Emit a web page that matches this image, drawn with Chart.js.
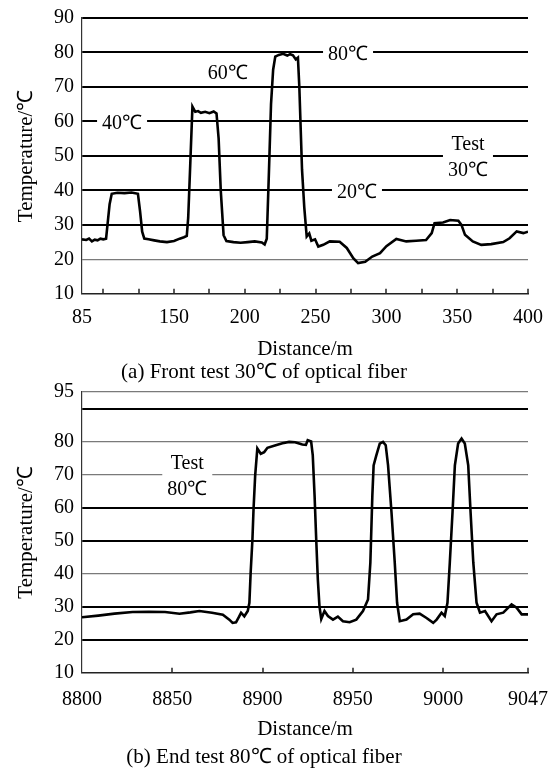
<!DOCTYPE html>
<html><head><meta charset="utf-8">
<script src="https://cdn.jsdelivr.net/npm/chart.js@4"></script>
<style>
html,body{margin:0;padding:0;background:#fff;}
#wa{position:absolute;left:0;top:0;width:554px;height:385px;}
#wb{position:absolute;left:0;top:370px;width:554px;height:400px;}
canvas{display:block;}
</style></head><body>
<div id="wa"><canvas id="ca" width="554" height="385"></canvas></div>
<div id="wb"><canvas id="cb" width="554" height="400"></canvas></div>
<script>
// ---------- DATA ----------
const distanceA = [85,88,90,92,94,96,98,100,102,103,104.5,106,110,115,120,124.5,126,127.5,129,132,136,140,145,150,154,157,159,160,161.5,163,165,167,169,172,175,178,180,181.5,183,185,187,192,197,202,207,212,214,215.5,217,218.5,220,221.5,224,227,230,232,234,236,237.5,238.5,240.4,242,243.7,245.5,247,249.6,251.9,255.4,260,267,272,276.6,280,285,290,295.5,300,307,314,321,328,332,334,340,345,350.8,353,355.5,361,367,374,382.5,387,392,396.7,400];
const temperatureA = [25.8,25.6,26.0,25.2,25.7,25.5,26.0,25.8,26.0,30,36,39.0,39.3,39.2,39.4,39.0,34,28,26.0,25.8,25.5,25.2,25.0,25.3,26.0,26.4,26.8,32,48,64.3,62.8,63.0,62.5,62.8,62.4,62.9,62.3,55,40,27,25.3,25.0,24.8,25.0,25.2,24.9,24.3,26,45,65,75,78.8,79.3,79.6,79.1,79.5,79.2,78.0,78.5,70,46,35,26.6,27.5,25.4,25.8,23.7,24.2,25.2,25.1,23.3,20.3,18.9,19.3,20.8,21.8,23.8,25.9,25.2,25.4,25.6,27.6,30.5,30.7,31.4,31.2,30,27.1,25.2,24.2,24.4,25.0,26.1,28.1,27.6,28.0];

const distanceB = [8800,8809,8818,8828,8837,8846,8854,8860,8865,8872,8878,8881.6,8883.4,8885.3,8887,8888.1,8889.9,8891.8,8892.7,8893.4,8894.4,8895,8895.9,8897.1,8899,8900.9,8902.7,8907.3,8911,8914.7,8918,8920.3,8922,8924,8925,8926.9,8927.8,8928.8,8929.7,8930.6,8931.5,8932.5,8934.3,8936.2,8939,8941.7,8944.5,8948.2,8951.9,8955.6,8958.4,8959.7,8960.8,8961.5,8963,8964.9,8966.7,8968.2,8969.5,8971.4,8973.2,8974.5,8976,8979.7,8983.4,8987,8990.8,8994.5,8996.4,8999.1,9000.9,9002.4,9003.7,9005.2,9006.5,9008.3,9010.2,9012,9013.9,9015.2,9016.7,9018.5,9020.4,9023.2,9026.8,9029.6,9033.3,9037.9,9040.7,9043.5,9047];
const temperatureB = [26.8,27.3,27.9,28.4,28.5,28.4,27.9,28.3,28.7,28.2,27.6,26.1,25.1,25.3,27.0,28.2,27.1,28.7,31.2,40.3,50.5,59.6,69.7,77.9,76.3,76.8,78.1,78.9,79.5,79.9,79.8,79.4,79.1,79.0,80.4,80.0,75.8,63.7,50.5,38.3,30.2,26.3,28.7,27.2,26.1,27.0,25.6,25.3,26.1,28.7,32.2,43.4,63.7,72.8,75.8,79.4,79.9,78.9,72.8,58.6,43.4,31.2,25.6,26.1,27.7,27.9,26.6,25.1,26.1,28.2,27.2,31.2,43.4,58.6,72.8,79.4,80.9,79.4,72.8,58.6,43.4,31.2,28.2,28.7,25.6,27.7,28.2,30.7,29.7,27.7,27.7];

const xTicksA = [85,100,125,150,175,200,225,250,275,300,325,350,375,400];
const xLabelsA = [85,150,200,250,300,350,400];
const yTicksA = [10,20,30,40,50,60,70,80,90];
const yLabelsA = [10,20,30,40,50,60,70,80,90];

const xTicksB = [8800,8850,8900,8950,9000,9047];
const xLabelsB = [8800,8850,8900,8950,9000,9047];
const yTicksB = [10,20,30,40,50,60,70,80,90,95];
const yLabelsB = [10,20,30,40,50,60,70,80,95];

const yTitle = 'Temperature/℃';
const xTitle = 'Distance/m';
const captionA = '(a) Front test 30℃ of optical fiber';
const captionB = '(b) End test 80℃ of optical fiber';

const notesA = [
  {text:['40℃'], x:113.3, y:60},
  {text:['60℃'], x:188, y:74.3},
  {text:['80℃'], x:272.9, y:80},
  {text:['Test','30℃'], x:357.6, y:50},
  {text:['20℃'], x:279.2, y:40}
];
const notesB = [
  {text:['Test','80℃'], x:8858.3, y:70}
];

// ---------- STYLE ----------
const FONT = "'Liberation Serif','Times New Roman',serif";
Chart.defaults.font.family = FONT;
Chart.defaults.font.size = 20;
Chart.defaults.color = '#000';

const decor = {
  id: 'decor',
  beforeDatasetsDraw(chart, args, opts) {
    const ctx = chart.ctx, xs = chart.scales.x, ys = chart.scales.y;
    ctx.save();
    ctx.font = '20px ' + FONT;
    ctx.textAlign = 'center';
    ctx.textBaseline = 'middle';
    const lh = 26;
    (opts.notes || []).forEach(n => {
      const px = xs.getPixelForValue(n.x), py = ys.getPixelForValue(n.y);
      const w = Math.max(...n.text.map(t => ctx.measureText(t).width)) + 10;
      const h = n.text.length * lh - 4;
      ctx.fillStyle = '#fff';
      ctx.fillRect(px - w/2, py - h/2, w, h);
      ctx.fillStyle = '#000';
      n.text.forEach((t, i) => {
        ctx.fillText(t, px, py + 2 - (n.text.length - 1) * lh / 2 + i * lh);
      });
    });
    ctx.restore();
  },
  afterDraw(chart, args, opts) {
    const ctx = chart.ctx, xs = chart.scales.x;
    const b = chart.chartArea.bottom;
    ctx.save();
    ctx.strokeStyle = '#222';
    ctx.lineWidth = 1.5;
    (opts.marks || []).forEach(v => {
      const px = Math.round(xs.getPixelForValue(v));
      ctx.beginPath();
      ctx.moveTo(px, b);
      ctx.lineTo(px, b - 5);
      ctx.stroke();
    });
    ctx.restore();
  }
};

function makeChart(id, dist, temp, cfg) {
  const pts = dist.map((d, i) => ({x: d, y: temp[i]}));
  return new Chart(document.getElementById(id), {
    type: 'line',
    data: { datasets: [{ data: pts, borderColor: '#000', borderWidth: 2.6, pointRadius: 0, tension: 0, fill: false }] },
    plugins: [decor],
    options: {
      responsive: false,
      animation: false,
      devicePixelRatio: 1,
      layout: { padding: { left: 0, right: 26, top: cfg.top, bottom: 0 } },
      plugins: {
        legend: { display: false },
        tooltip: { enabled: false },
        title: { display: true, position: 'bottom', text: cfg.caption, color: '#000',
                 font: { size: 21, weight: 'normal', lineHeight: 1.2 }, padding: { top: 0, bottom: cfg.capPad } },
        decor: { notes: cfg.notes, marks: cfg.marks }
      },
      scales: {
        x: {
          type: 'linear', min: cfg.xmin, max: cfg.xmax,
          afterBuildTicks: s => { s.ticks = cfg.xTicks.map(v => ({value: v})); },
          afterFit: s => { s.height = cfg.xH; s.paddingLeft = 0; s.paddingRight = 0; },
          ticks: { autoSkip: false, maxRotation: 0, padding: cfg.xPad, color: '#000',
                   callback: v => cfg.xLabels.includes(v) ? String(v) : '' },
          grid: { display: true, drawOnChartArea: false, drawTicks: false },
          border: { display: true, color: '#222', width: 1.5 },
          title: { display: true, text: xTitle, color: '#000', font: { size: 21, lineHeight: 1.2 }, padding: { top: 0, bottom: cfg.xTitlePad } }
        },
        y: {
          type: 'linear', min: cfg.ymin, max: cfg.ymax,
          afterBuildTicks: s => { s.ticks = cfg.yTicks.map(v => ({value: v})); },
          afterFit: s => { s.width = 82; s.paddingTop = 0; s.paddingBottom = 0; },
          ticks: { padding: 8, color: '#000', autoSkip: false,
                   callback: v => cfg.yLabels.includes(v) ? String(v) : '' },
          grid: {
            drawTicks: false,
            lineWidth: c => (c.tick && c.tick.value === cfg.ymin) ? 0 : (cfg.thin.includes(c.tick && c.tick.value) ? 1.2 : 2),
            color: c => cfg.thin.includes(c.tick && c.tick.value) ? '#7a7a7a' : '#000'
          },
          border: { display: true, color: '#333', width: 1.2 },
          title: { display: true, text: yTitle, color: '#000', font: { size: 21, lineHeight: 1.2 }, padding: { top: 14, bottom: 0 } }
        }
      }
    }
  });
}

makeChart('ca', distanceA, temperatureA, {
  top: 18, caption: captionA, capPad: 0, notes: notesA, marks: xTicksA.slice(1),
  xmin: 85, xmax: 400, xTicks: xTicksA, xLabels: xLabelsA, xH: 66, xPad: 12, xTitlePad: -2,
  ymin: 10, ymax: 90, yTicks: yTicksA, yLabels: yLabelsA, thin: [20]
});
makeChart('cb', distanceB, temperatureB, {
  top: 22, caption: captionB, capPad: 0, notes: notesB, marks: xTicksB.slice(1),
  xmin: 8800, xmax: 9047, xTicks: xTicksB, xLabels: xLabelsB, xH: 72, xPad: 15, xTitlePad: 3,
  ymin: 10, ymax: 95, yTicks: yTicksB, yLabels: yLabelsB, thin: [95, 80, 70, 40]
});
</script>
</body></html>
